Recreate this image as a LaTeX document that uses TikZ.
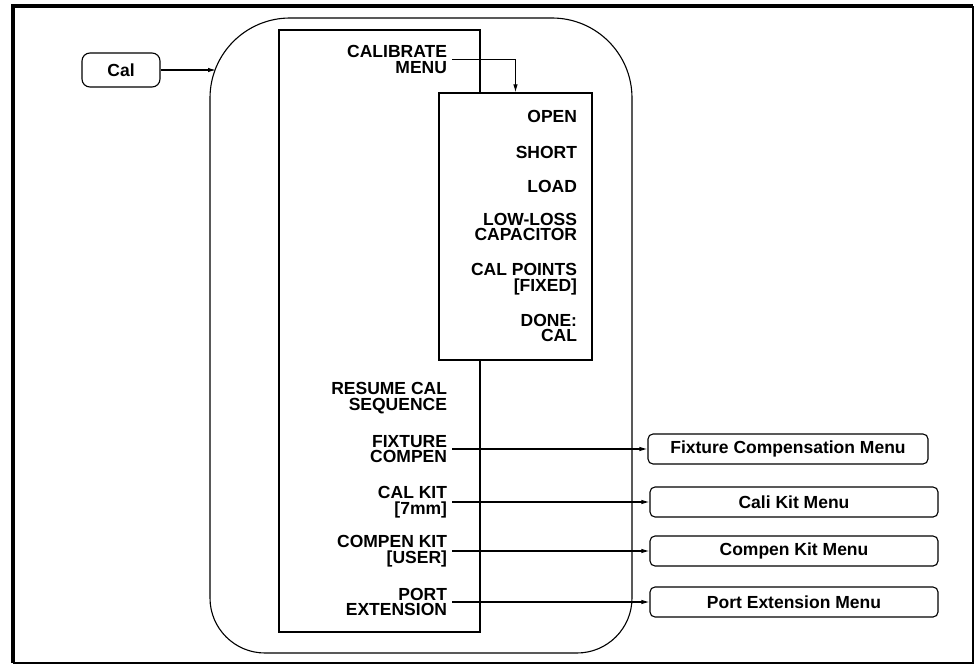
\documentclass[tikz,border=0pt]{standalone}
\usepackage{fontspec}
\setmainfont{Liberation Sans}
\usetikzlibrary{arrows.meta, positioning, calc}

\begin{document}
\begin{tikzpicture}[
    x=1bp, y=-1bp,
    >={Latex[length=8bp,width=4.5bp]},
    line width=1.1bp,
    item/.style={font=\bfseries\fontsize{17.5bp}{15.5bp}\selectfont, align=right, anchor=east, inner sep=0pt, outer sep=5bp},
    menubox/.style={draw, rounded corners=5bp, minimum height=30bp, inner sep=0pt, font=\bfseries\fontsize{17.5bp}{15.5bp}\selectfont},
    link/.style={draw, ->}
]
    \useasboundingbox (0,0) rectangle (978,665);

    % ==================== FRAME ====================
    \draw[line width=3.5bp] (13,663) -- (13,6) -- (973,6);
    \draw[line width=1.8bp] (973,6) -- (973,663) -- (13,663);

    % ==================== SOFTKEY OUTLINE ====================
    \draw (210,340) [rounded corners=80bp] |- (420,18) -| (632,340)
          [rounded corners=55bp] |- (420,653) -| (210,340);
    \coordinate (keysedge) at (216,70);

    % Hardkey
    \node[menubox, minimum width=78bp, minimum height=34bp, rounded corners=8bp] (cal) at (121,70) {Cal};
    \path[link] (cal) -- (keysedge);

    % ==================== CALIBRATE MENU ====================
    \node[draw, minimum width=201bp, minimum height=602bp, inner sep=0pt] (calmenu) at (379.5,331) {};
    \node[item] (calibrate) at (452,59.5) {CALIBRATE\\MENU};
    \node[item] (resume) at (452,398) {RESUME CAL\\SEQUENCE};
    \node[item] (fixture) at (452,449) {FIXTURE\\COMPEN};
    \node[item] (calkit) at (452,502) {CAL KIT\\{[7mm]}};
    \node[item] (compenkit) at (452,551) {COMPEN KIT\\{[USER]}};
    \node[item] (portext) at (452,602) {PORT\\EXTENSION};

    % Submenu
    \node[draw, fill=white, minimum width=153bp, minimum height=267bp, inner sep=0pt] (calsub) at (515.5,226.5) {};
    \node[item] (open) at (582,116) {OPEN};
    \node[item] (short) at (582,152) {SHORT};
    \node[item] (load) at (582,186) {LOAD};
    \node[item] (lowloss) at (582,227) {LOW-LOSS\\CAPACITOR};
    \node[item] (calpoints) at (582,279) {CAL POINTS\\{[FIXED]}};
    \node[item] (done) at (582,328) {DONE:\\CAL};

    \path[link] (calibrate.east) -| (calsub.north);

    % ==================== TARGET MENUS ====================
    \node[menubox, minimum width=280bp] (fixbox) at (788,449) {Fixture Compensation Menu};
    \node[menubox, minimum width=288bp] (kitbox) at (794,502) {Cali Kit Menu};
    \node[menubox, minimum width=288bp] (compbox) at (794,551) {Compen Kit Menu};
    \node[menubox, minimum width=288bp] (portbox) at (794,602) {Port Extension Menu};

    \path[link] (fixture) -- (fixbox);
    \path[link] (calkit) -- (kitbox);
    \path[link] (compenkit) -- (compbox);
    \path[link] (portext) -- (portbox);
\end{tikzpicture}
\end{document}
